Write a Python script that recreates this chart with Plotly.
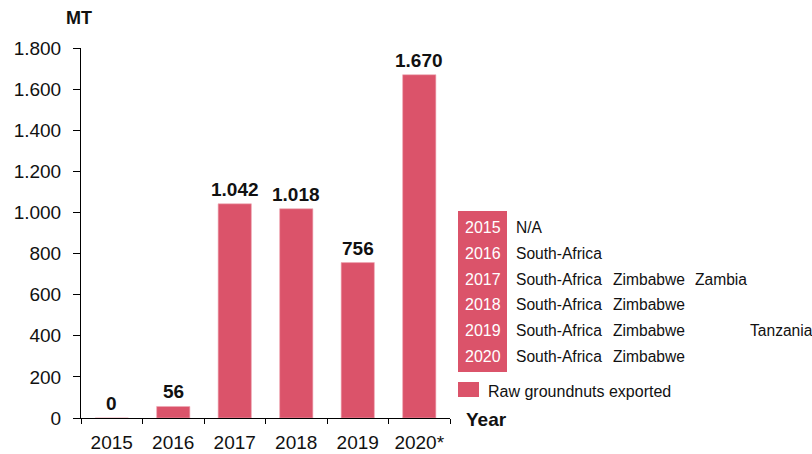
import plotly.graph_objects as go

# Raw groundnut exports (metric tonnes) per year
years = ["2015", "2016", "2017", "2018", "2019", "2020*"]
exports_mt = [0, 56, 1042, 1018, 756, 1670]
y_ticks = [0, 200, 400, 600, 800, 1000, 1200, 1400, 1600, 1800]

# Destination table shown beside the chart
table_years = ["2015", "2016", "2017", "2018", "2019", "2020"]
table_partners = [
    ["N/A"],
    ["South-Africa"],
    ["South-Africa", "Zimbabwe", "Zambia"],
    ["South-Africa", "Zimbabwe"],
    ["South-Africa", "Zimbabwe", "", "Tanzania"],
    ["South-Africa", "Zimbabwe"],
]
series_name = "Raw groundnuts exported"

W, H = 812, 454
BAR = "#DB536A"
FONT = "Liberation Sans, Arial, sans-serif"
INK = "#111111"


def px(x):
    return x / W


def py(y):
    return 1 - y / H


def fmt(v):
    return f"{v:,}".replace(",", ".")


fig = go.Figure()
fig.add_trace(go.Bar(
    x=years, y=exports_mt, name=series_name,
    marker=dict(color=BAR, line=dict(color="#EFA9B5", width=0.6)),
    showlegend=False,
))

annotations = []
# value labels above bars (category index used as x position)
for i, v in enumerate(exports_mt):
    annotations.append(dict(
        x=i, y=v, xref="x", yref="y", text=f"<b>{fmt(v)}</b>",
        showarrow=False, yanchor="bottom", xanchor="center", yshift=2,
        font=dict(family=FONT, size=19, color=INK),
    ))

# axis titles
annotations.append(dict(x=px(79), y=py(18), xref="paper", yref="paper",
                        text="<b>MT</b>", showarrow=False,
                        xanchor="center", yanchor="middle",
                        font=dict(family=FONT, size=18, color=INK)))
annotations.append(dict(x=px(486), y=py(419), xref="paper", yref="paper",
                        text="<b>Year</b>", showarrow=False,
                        xanchor="center", yanchor="middle",
                        font=dict(family=FONT, size=19, color=INK)))

shapes = []
# red year column of the destination table
shapes.append(dict(type="rect", xref="paper", yref="paper",
                   x0=px(458), x1=px(507), y0=py(372), y1=py(211),
                   fillcolor=BAR, line=dict(width=0), layer="above"))

col_x = [514, 611, 693, 748]
for i, (ty, partners) in enumerate(zip(table_years, table_partners)):
    row_y = 227.5 + i * 25.8
    annotations.append(dict(x=px(482.5), y=py(row_y), xref="paper", yref="paper",
                            text=ty, showarrow=False, xanchor="center", yanchor="middle",
                            font=dict(family=FONT, size=16, color="white")))
    for j, name in enumerate(partners):
        if not name:
            continue
        annotations.append(dict(x=px(col_x[j]), y=py(row_y), xref="paper", yref="paper",
                                text=name, showarrow=False, xanchor="left", yanchor="middle",
                                font=dict(family=FONT, size=15.6, color=INK)))

# legend swatch and label
shapes.append(dict(type="rect", xref="paper", yref="paper",
                   x0=px(458), x1=px(479), y0=py(397), y1=py(382),
                   fillcolor=BAR, line=dict(width=0)))
annotations.append(dict(x=px(486), y=py(391), xref="paper", yref="paper",
                        text=series_name, showarrow=False, xanchor="left", yanchor="middle",
                        font=dict(family=FONT, size=16, color=INK)))

fig.update_layout(
    width=W, height=H,
    margin=dict(l=0, r=0, t=0, b=0, autoexpand=False),
    paper_bgcolor="white", plot_bgcolor="white",
    separators=",.",
    bargap=0.46,
    font=dict(family=FONT, color=INK),
    xaxis=dict(
        type="category", domain=[px(81), px(450)], range=[-0.5, 5.5],
        showline=True, linecolor="black", linewidth=1,
        ticks="outside", tickson="boundaries", ticklen=5, tickcolor="black",
        tickfont=dict(family=FONT, size=19, color=INK),
        ticklabelstandoff=7,
        showgrid=False, zeroline=False,
    ),
    yaxis=dict(
        domain=[1 - 418 / H, 1 - 48 / H], range=[0, 1800],
        tickvals=y_ticks, ticktext=[fmt(t) for t in y_ticks],
        showline=True, linecolor="black", linewidth=1,
        ticks="outside", ticklen=7, tickcolor="black",
        tickfont=dict(family=FONT, size=19, color=INK),
        ticklabelstandoff=8,
        showgrid=False, zeroline=False,
    ),
    annotations=annotations,
    shapes=shapes,
)

fig.write_html("out.html")
